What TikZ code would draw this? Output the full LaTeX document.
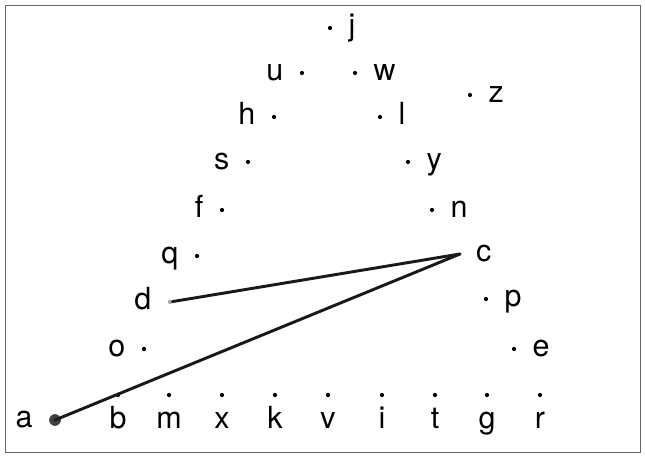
\documentclass[tikz,border=0pt]{standalone}
\usepackage{fontspec}
\setmainfont{TeX Gyre Heros}

\begin{document}
\begin{tikzpicture}[
    x=0.03cm, y=-0.03cm,
    pt/.style={circle, fill=black, inner sep=0pt, minimum size=3.6pt},
    lbl/.style={font=\fontsize{26}{30}\selectfont, inner sep=0pt, text height=18.5pt, text depth=5pt, label distance=0.48cm},
    lr/.style={label={[lbl]right:#1}},
    ll/.style={label={[lbl]left:#1}},
    lb/.style={label={[lbl, label distance=0.28cm]below:#1}},
    link/.style={line width=2.5pt, line cap=round, black!90},
    frame/.style={draw=black!60, line width=1.1pt},
]

% Frame
\useasboundingbox (0,0) rectangle (645,456);
\node[frame, inner sep=0pt, minimum width=19.05cm, minimum height=13.41cm, anchor=north west] (box) at (5,5) {};

% Left side of the arch
\node[pt, lr=j] (j) at (330, 28) {};
\node[pt, ll=u] (u) at (302, 73) {};
\node[pt, ll=h] (h) at (274, 117) {};
\node[pt, ll=s] (s) at (248, 162) {};
\node[pt, ll=f] (f) at (222, 210) {};
\node[pt, ll=q] (q) at (197, 256) {};
\node[pt, ll=d, fill=black!35] (d) at (170, 302) {};
\node[pt, ll=o] (o) at (144, 349) {};

% Right side of the arch
\node[pt, lr=w] (w) at (355, 73) {};
\node[pt, lr=z] (z) at (470, 95) {};
\node[pt, lr=l] (l) at (380, 117) {};
\node[pt, lr=y] (y) at (408, 162) {};
\node[pt, lr=n] (n) at (432, 210) {};
\coordinate[label={[lbl]right:c}] (c) at (460, 254);
\node[pt, lr=p] (p) at (486, 299) {};
\node[pt, lr=e] (e) at (514, 349) {};

% Bottom row
\node[pt, ll=a, fill=black!75, minimum size=10pt, label distance=0.36cm] (a) at (55, 420) {};
\node[pt, lb=b] (b) at (118, 395) {};
\node[pt, lb=m] (m) at (169, 395) {};
\node[pt, lb=x] (x) at (222, 395) {};
\node[pt, lb=k] (k) at (275, 395) {};
\node[pt, lb=v] (v) at (328, 395) {};
\node[pt, lb=i] (i) at (382, 395) {};
\node[pt, lb=t] (t) at (435, 395) {};
\node[pt, lb=g] (g) at (487, 395) {};
\node[pt, lb=r] (r) at (540, 395) {};

% Links
\draw[link] (d) -- (c);
\draw[link] (a.center) -- (c);

\end{tikzpicture}
\end{document}
